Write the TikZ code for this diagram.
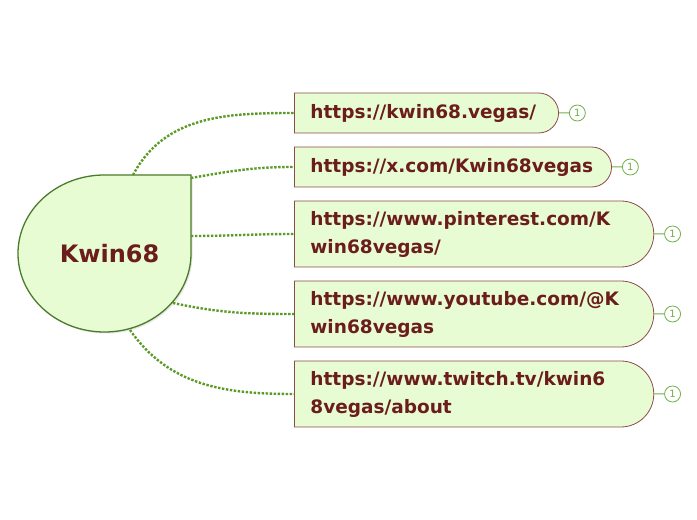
\documentclass[tikz,border=0pt]{standalone}
\usepackage{fontspec}
\setmainfont{DejaVu Sans}
\usetikzlibrary{positioning,shapes.misc,shadows}
\definecolor{MapFill}{HTML}{E8FCD3}
\definecolor{MapGreen}{HTML}{4B7A2B}
\definecolor{MapDots}{HTML}{5A9A25}
\definecolor{MapRed}{HTML}{6B1C1C}
\definecolor{MapEdge}{HTML}{8C4B4B}
\definecolor{MapBadge}{HTML}{6FAF45}

\begin{document}
\begin{tikzpicture}[x=1pt,y=1pt,
		topic/.style={rounded rectangle,rounded rectangle left arc=none,draw=MapEdge,line width=0.8pt,fill=MapFill,text=MapRed,font=\fontsize{18.5}{28}\selectfont\bfseries,align=left,anchor=west,inner xsep=16pt,minimum height=40pt},
		badge/.style={circle,draw=MapBadge,line width=0.8pt,fill=white,text=MapBadge,font=\fontsize{10}{10}\selectfont,inner sep=0pt,minimum size=16pt},
		branch/.style={MapDots,line width=2.4pt,dash pattern=on 2.4pt off 1.6pt}]
		\useasboundingbox (0,0) rectangle (697,520);
		% central topic
		\draw[MapGreen,fill=MapFill,line width=1.3pt,drop shadow={opacity=0.2,shadow xshift=1.5pt,shadow yshift=-1.5pt}] (104.5,345) -- (191,345) -- (191,266.5) arc[start angle=0,end angle=-270,x radius=86.5,y radius=78.5] -- cycle;
		\node (root) [text=MapRed,font=\fontsize{24}{24}\selectfont\bfseries] at (109.5,266) {Kwin68};
		\coordinate (r1) at (133,345);
		\coordinate (r2) at (191,342);
		\coordinate (r3) at (191,284);
		\coordinate (r4) at (173,217);
		\coordinate (r5) at (130,190);
		% subtopics
		\node (u1) [topic,text width=230pt] at (294,407) {https://kwin68.vegas/};
		\node (u2) [topic,text width=283pt] at (294,353) {https://x.com/Kwin68vegas};
		\node (u3) [topic,text width=318pt,minimum height=66pt] at (294,286) {https://www.pinterest.com/K\\win68vegas/};
		\node (u4) [topic,text width=318pt,minimum height=66pt] at (294,206) {https://www.youtube.com/@K\\win68vegas};
		\node (u5) [topic,text width=318pt,minimum height=66pt] at (294,126) {https://www.twitch.tv/kwin6\\8vegas/about};
		\foreach \i in {1,...,5} {
			\node (b\i) [badge,right=10pt of u\i] {1};
			\draw[MapBadge,line width=1pt] (u\i) -- (b\i);
		}
		\draw[branch] (r1) to[out=62,in=180] (u1.west);
		\draw[branch] (r2) to[out=10,in=180] (u2.west);
		\draw[branch] (r3) to[out=0,in=180] (u3.west);
		\draw[branch] (r4) to[out=-12,in=180] (u4.west);
		\draw[branch] (r5) to[out=-55,in=180] (u5.west);
	\end{tikzpicture}
\end{document}
